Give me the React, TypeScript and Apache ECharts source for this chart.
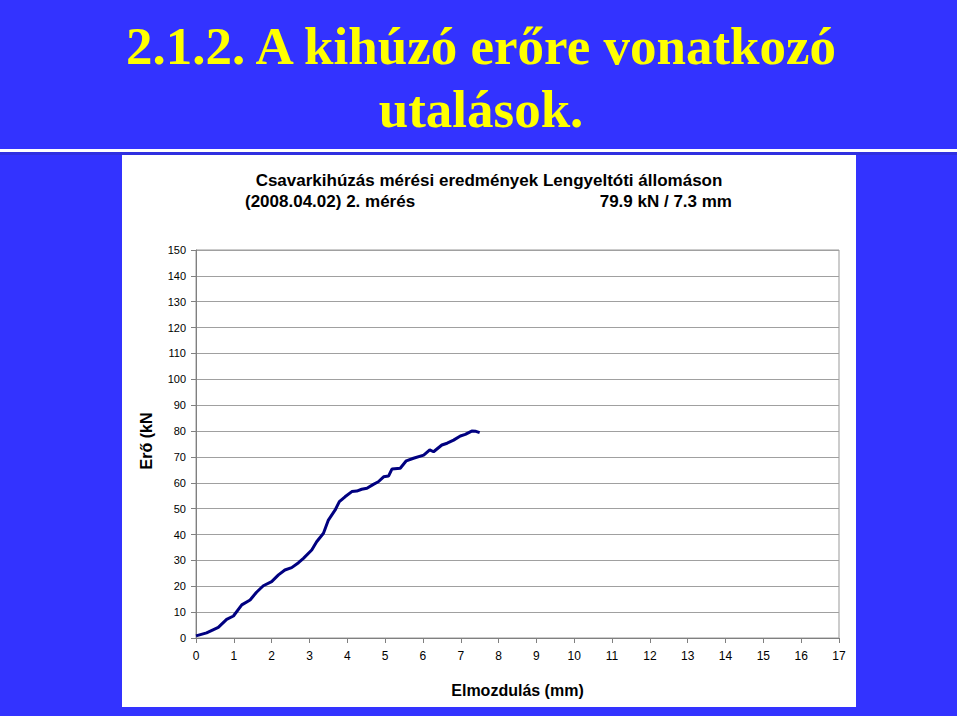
import React, { useEffect, useRef } from "react";
import * as echarts from "echarts";

const displacement = [
  0, 0.28, 0.59, 0.81, 0.99, 1.21, 1.43, 1.6, 1.78, 2.0, 2.18, 2.35, 2.53, 2.71, 2.84,
  3.06, 3.19, 3.37, 3.5, 3.68, 3.79, 3.94, 4.12, 4.25, 4.38, 4.52, 4.69, 4.82, 4.96,
  5.09, 5.18, 5.4, 5.56, 5.75, 6.02, 6.18, 6.28, 6.5, 6.64, 6.81, 6.99, 7.12, 7.29, 7.4, 7.5,
];
const force = [
  0.8, 2.0, 4.1, 7.2, 8.5, 12.8, 14.7, 17.7, 20.2, 21.8, 24.4, 26.3, 27.2, 29.1, 30.8,
  34.0, 37.2, 40.5, 45.6, 49.5, 52.7, 54.6, 56.6, 56.8, 57.5, 57.9, 59.4, 60.4, 62.3,
  62.6, 65.3, 65.6, 68.5, 69.5, 70.7, 72.7, 72.0, 74.6, 75.3, 76.5, 78.1, 78.7, 80.0, 79.9, 79.4,
];

const slideTitle1 = "2.1.2. A kihúzó erőre vonatkozó";
const slideTitle2 = "utalások.";
const chartTitle1 = "Csavarkihúzás mérési eredmények Lengyeltóti állomáson";
const chartTitle2Left = "(2008.04.02) 2. mérés";
const chartTitle2Right = "79.9 kN / 7.3 mm";
const xName = "Elmozdulás (mm)";
const yName = "Erő (kN";

const SANS = 'Arial, "Liberation Sans", sans-serif';
const SERIF = '"Times New Roman", "Liberation Serif", serif';

export default function App() {
  const ref = useRef<HTMLDivElement>(null);
  useEffect(() => {
    document.body.style.margin = "0";
    const chart = echarts.init(ref.current!, null, { renderer: "svg" });
    const data = displacement.map((x, i) => [x, force[i]]);
    const titleStyle = { fill: "#000000", font: `bold 17px ${SANS}`, verticalAlign: "middle" };
    chart.setOption({
      animation: false,
      backgroundColor: "#3333FF",
      graphic: [
        { type: "rect", z: -10, shape: { x: 0, y: 149, width: 957, height: 3 }, style: { fill: "#FFFFFF" } },
        { type: "rect", z: -10, shape: { x: 0, y: 152, width: 957, height: 3 }, style: { fill: "#3030E0" } },
        { type: "rect", z: -10, shape: { x: 957, y: 0, width: 3, height: 716 }, style: { fill: "#FFFFFF" } },
        { type: "rect", z: -10, shape: { x: 122, y: 155, width: 734, height: 552 }, style: { fill: "#FFFFFF" } },
        {
          type: "text", x: 481, y: 46,
          style: { text: slideTitle1, fill: "#FFFF00", font: `bold 53px ${SERIF}`, align: "center", verticalAlign: "middle" },
        },
        {
          type: "text", x: 481, y: 109,
          style: { text: slideTitle2, fill: "#FFFF00", font: `bold 53px ${SERIF}`, align: "center", verticalAlign: "middle" },
        },
        { type: "text", x: 489, y: 180, style: { ...titleStyle, text: chartTitle1, align: "center" } },
        { type: "text", x: 245, y: 201, style: { ...titleStyle, text: chartTitle2Left, align: "left" } },
        { type: "text", x: 732, y: 201, style: { ...titleStyle, text: chartTitle2Right, align: "right" } },
        {
          type: "text", x: 146, y: 441, rotation: Math.PI / 2,
          style: { text: yName, fill: "#000000", font: `bold 16px ${SANS}`, align: "center", verticalAlign: "middle" },
        },
      ],
      grid: {
        left: 196, top: 250, right: 121, bottom: 78,
        show: true, borderColor: "#999999", borderWidth: 1, backgroundColor: "transparent",
      },
      xAxis: {
        type: "value", min: 0, max: 17, interval: 1,
        name: xName, nameLocation: "middle", nameGap: 44,
        nameTextStyle: { fontFamily: SANS, fontSize: 16, fontWeight: "bold", color: "#000" },
        axisLine: { show: true, lineStyle: { color: "#808080", width: 1 } },
        axisTick: { show: true, inside: false, length: 5, lineStyle: { color: "#808080" } },
        axisLabel: { color: "#000", fontFamily: SANS, fontSize: 12, margin: 12 },
        splitLine: { show: false },
      },
      yAxis: {
        type: "value", min: 0, max: 150, interval: 10,
        axisLine: { show: true, lineStyle: { color: "#808080", width: 1 } },
        axisTick: { show: true, inside: false, length: 5, lineStyle: { color: "#808080" } },
        axisLabel: { color: "#000", fontFamily: SANS, fontSize: 11, margin: 10 },
        splitLine: { show: true, lineStyle: { color: "#A0A0A0", width: 1 } },
      },
      series: [
        {
          type: "line", data, showSymbol: false, symbol: "none", smooth: false,
          lineStyle: { color: "#000080", width: 3 }, z: 5,
        },
      ],
    });
    return () => chart.dispose();
  }, []);
  return <div ref={ref} style={{ width: 960, height: 716 }} />;
}
